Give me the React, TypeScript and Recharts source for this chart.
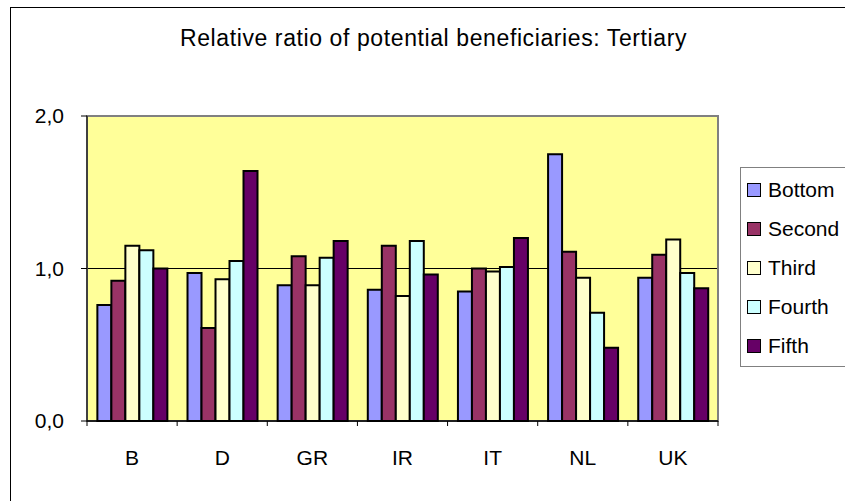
import { BarChart, Bar, XAxis, YAxis, CartesianGrid, ReferenceArea } from 'recharts';

const countries = ['B', 'D', 'GR', 'IR', 'IT', 'NL', 'UK'];
const bottom = [0.76, 0.97, 0.89, 0.86, 0.85, 1.75, 0.94];
const second = [0.92, 0.61, 1.08, 1.15, 1.0, 1.11, 1.09];
const third = [1.15, 0.93, 0.89, 0.82, 0.98, 0.94, 1.19];
const fourth = [1.12, 1.05, 1.07, 1.18, 1.01, 0.71, 0.97];
const fifth = [1.0, 1.64, 1.18, 0.96, 1.2, 0.48, 0.87];
const yTicks = [0, 1, 2];

const series = [
  { key: 'Bottom', values: bottom, color: '#9999FF' },
  { key: 'Second', values: second, color: '#993366' },
  { key: 'Third', values: third, color: '#FFFFCC' },
  { key: 'Fourth', values: fourth, color: '#CCFFFF' },
  { key: 'Fifth', values: fifth, color: '#660066' },
];

const data = countries.map((c, i) => {
  const row: any = { name: c };
  series.forEach((s) => (row[s.key] = s.values[i]));
  return row;
});

const FONT = '"Liberation Sans", Arial, sans-serif';
const BAND = (718 - 87) / 7;

const CategoryTick = ({ x, y, payload, index }: any) => (
  <g>
    <line x1={x - BAND / 2} y1={y} x2={x - BAND / 2} y2={y + 5} stroke="#000" />
    {index === countries.length - 1 && (
      <line x1={x + BAND / 2} y1={y} x2={x + BAND / 2} y2={y + 5} stroke="#000" />
    )}
    <text x={x} y={y + 44} textAnchor="middle" fontSize={21} fontFamily={FONT} fill="#000">
      {payload.value}
    </text>
  </g>
);

const LegendBox = () => (
  <div
    style={{
      position: 'absolute',
      left: 740,
      top: 167,
      border: '1px solid #808080',
      background: '#fff',
      width: 120,
      height: 200,
      boxSizing: 'border-box',
      paddingTop: 2,
      fontFamily: FONT,
      fontSize: 21,
      color: '#000',
    }}
  >
    {series.map((s) => (
      <div key={s.key} style={{ display: 'flex', alignItems: 'center', height: 39, paddingLeft: 6 }}>
        <span
          style={{
            width: 12,
            height: 12,
            background: s.color,
            border: '1.5px solid #000',
            marginRight: 7,
            display: 'inline-block',
          }}
        />
        <span>{s.key}</span>
      </div>
    ))}
  </div>
);

const App = () => {
  return (
    <div style={{ position: 'fixed', left: 0, top: 0, width: 845, height: 501, overflow: 'hidden', background: '#fff' }}>
      <div style={{ position: 'absolute', left: 10, top: 7, width: 1, height: 600, background: '#000' }} />
      <div style={{ position: 'absolute', left: 10, top: 7, width: 900, height: 1, background: '#000' }} />
      <div
        style={{
          position: 'absolute',
          left: 0,
          width: 867,
          top: 24,
          textAlign: 'center',
          fontFamily: FONT,
          fontSize: 23,
          letterSpacing: 0.6,
          lineHeight: '28px',
          color: '#000',
        }}
      >
        Relative ratio of potential beneficiaries: Tertiary
      </div>
      <div style={{ position: 'absolute', left: 0, top: 0 }}>
        <BarChart
          width={845}
          height={501}
          data={data}
          margin={{ top: 116, right: 127, bottom: 50, left: 10 }}
          barCategoryGap="11.5%"
          barGap={0}
        >
          <CartesianGrid vertical={false} fill="#FFFF99" stroke="#000" horizontalValues={[1]} />
          <ReferenceArea y1={0} y2={2} fill="none" stroke="#808080" strokeWidth={2} />
          <XAxis
            dataKey="name"
            height={30}
            axisLine={{ stroke: '#000', strokeWidth: 1.5 }}
            tickLine={false}
            tickSize={0}
            tickMargin={0}
            tick={<CategoryTick />}
            interval={0}
          />
          <YAxis
            width={77}
            domain={[0, 2]}
            ticks={yTicks}
            interval={0}
            axisLine={{ stroke: '#000' }}
            tickLine={{ stroke: '#000' }}
            tickSize={6}
            tickMargin={17}
            tickFormatter={(v: number) => v.toFixed(1).replace('.', ',')}
            tick={{ fill: '#000', fontSize: 21, fontFamily: FONT }}
          />
          {series.map((s) => (
            <Bar
              key={s.key}
              dataKey={s.key}
              fill={s.color}
              stroke="#000"
              strokeWidth={2}
              isAnimationActive={false}
            />
          ))}
        </BarChart>
      </div>
      <LegendBox />
    </div>
  );
};

export default App;
